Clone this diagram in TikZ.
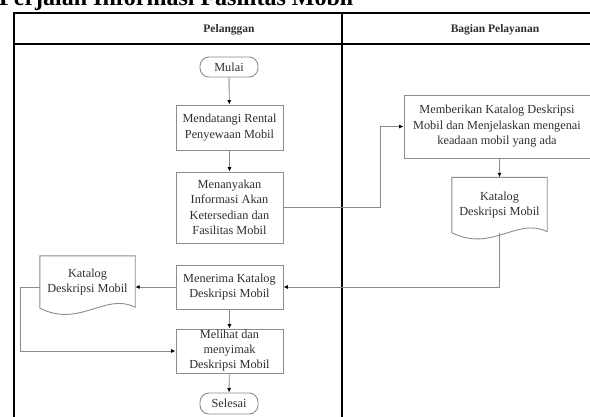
\documentclass[tikz,border=0pt]{standalone}
\usepackage{fontspec}
\setmainfont{Liberation Serif}
\usetikzlibrary{arrows.meta,calc}
\definecolor{boxgray}{HTML}{8C8C8C}
\definecolor{linegray}{HTML}{8A8A8A}
\definecolor{txtgray}{HTML}{2E2E2E}
\tikzset{
  lane/.style={line width=2.2pt,black},
  box/.style={draw=boxgray,line width=0.9pt,rectangle,align=center,text=txtgray,
    font=\fontsize{12.3}{15.5}\selectfont,inner sep=1pt},
  term/.style={box,rounded corners=9pt},
  doctext/.style={rectangle,align=center,text=txtgray,
    font=\fontsize{12.3}{15.5}\selectfont,inner sep=1pt},
  docline/.style={draw=boxgray,line width=0.9pt},
  conn/.style={draw=linegray,line width=0.9pt,-{Latex[length=4.5pt,width=4pt,color=black]}},
  plain/.style={draw=linegray,line width=0.9pt},
  head/.style={font=\bfseries\fontsize{11.5}{13}\selectfont,text=txtgray}
}
\newcommand\docoutline[1]{%
  \draw[docline] (#1.south west) -- (#1.north west) -- (#1.north east) -- ([yshift=1pt]#1.south east)
    .. controls ($(#1.south east)+(-30,-16)$) and ($(#1.south west)+(40,20)$) .. (#1.south west);}
\begin{document}
\begin{tikzpicture}[x=1pt,y=-1pt]
\clip (0,0) rectangle (590,416);
\useasboundingbox (0,0) rectangle (590,416);
% title (cut off at top)
\node[anchor=base west,inner sep=0,font=\bfseries\fontsize{24}{26}\selectfont] (title) at (-1,5.5) {Perjalan Informasi Fasilitas Mobil};
% swimlane frame
\draw[lane] (14,13) -- (592,13);
\draw[lane] (14,44) -- (592,44);
\draw[lane] (14,12) -- (14,418);
\draw[lane] (342,12) -- (342,418);
\node[head] (h1) at (229,30) {Pelanggan};
\node[head] (h2) at (495,30) {Bagian Pelayanan};
% nodes
\node[term,minimum width=58pt,minimum height=20pt] (mulai) at (229,67) {Mulai};
\node[box,minimum width=107pt,minimum height=45pt] (mendatangi) at (229.5,127.5) {Mendatangi Rental\\Penyewaan Mobil};
\node[box,minimum width=107pt,minimum height=71pt] (menanyakan) at (229.5,207.5) {Menanyakan\\Informasi Akan\\Ketersedian dan\\Fasilitas Mobil};
\node[box,minimum width=186pt,minimum height=63pt] (memberikan) at (497,126.5) {Memberikan Katalog Deskripsi\\Mobil dan Menjelaskan mengenai\\keadaan mobil yang ada};
\node[doctext,minimum width=95pt,minimum height=55pt] (doc2) at (499.5,205) {Katalog\\Deskripsi Mobil};
\docoutline{doc2}
\node[box,minimum width=107pt,minimum height=44pt] (menerima) at (229.5,287) {Menerima Katalog\\Deskripsi Mobil};
\node[doctext,minimum width=95pt,minimum height=52pt] (doc1) at (87.5,282) {Katalog\\Deskripsi Mobil};
\docoutline{doc1}
\node[box,minimum width=107pt,minimum height=44pt,inner ysep=0pt,font=\fontsize{12.3}{15}\selectfont] (melihat) at (229.5,351) {Melihat dan\\menyimak\\Deskripsi Mobil};
\node[term,minimum width=58pt,minimum height=21pt] (selesai) at (229,403.5) {Selesai};
% connectors
\draw[conn] (mulai) -- (mendatangi);
\draw[conn] (mendatangi) -- (menanyakan);
\draw[conn] (menanyakan.east) -- ++(97,0) |- (memberikan.west);
\draw[conn] (memberikan.south -| doc2.north) -- (doc2.north);
\draw[conn] (doc2.south) |- (menerima.east);
\draw[conn] (menerima.west) -- (menerima.west -| doc1.east);
\draw[conn] (menerima.west -| doc1.west) -- ++(-19,0) |- (melihat.west);
\draw[conn] (menerima) -- (melihat);
\draw[conn] (melihat) -- (selesai);
\end{tikzpicture}
\end{document}
